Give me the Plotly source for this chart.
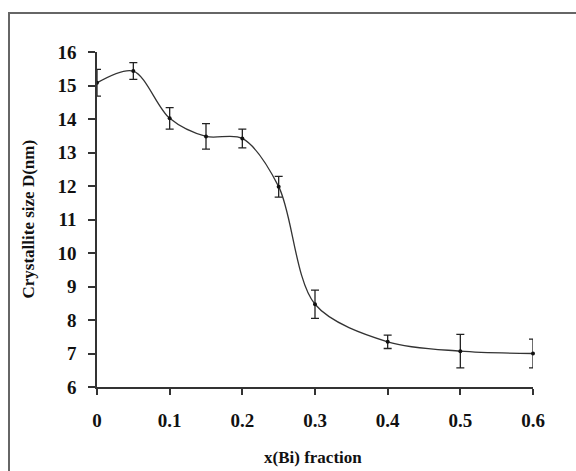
import plotly.graph_objects as go

x_frac = [0, 0.05, 0.1, 0.15, 0.2, 0.25, 0.3, 0.4, 0.5, 0.6]
size_nm = [15.08, 15.43, 14.02, 13.48, 13.42, 11.98, 8.47, 7.35, 7.07, 7.0]
err_nm = [0.40, 0.25, 0.32, 0.38, 0.28, 0.31, 0.42, 0.20, 0.50, 0.43]

x_ticks = [0, 0.1, 0.2, 0.3, 0.4, 0.5, 0.6]
x_ticktext = ["0", "0.1", "0.2", "0.3", "0.4", "0.5", "0.6"]
y_ticks = [6, 7, 8, 9, 10, 11, 12, 13, 14, 15, 16]

FONT = "Liberation Serif"

fig = go.Figure()
fig.add_trace(go.Scatter(
    x=x_frac, y=size_nm,
    mode="lines+markers",
    line=dict(shape="spline", smoothing=0.9, color="#333333", width=1.3),
    marker=dict(color="#111111", size=4),
    error_y=dict(type="data", array=err_nm, visible=True,
                 color="#222222", thickness=1.3, width=4),
    cliponaxis=False,
    showlegend=False,
))

W, H = 576, 471
L, R, T, B = 97, 43, 52, 84
pw, ph = W - L - R, H - T - B

def px_x(p):
    return (p - L) / pw

def px_y(p):
    return (H - B - p) / ph

fig.update_layout(
    width=W, height=H,
    margin=dict(l=L, r=R, t=T, b=B),
    paper_bgcolor="white", plot_bgcolor="white",
    font=dict(family=FONT, color="#111111"),
    xaxis=dict(range=[0, 0.6], tickvals=x_ticks, ticktext=x_ticktext,
               showgrid=False, zeroline=False, showline=True,
               linecolor="#333333", linewidth=1.5,
               ticks="outside", ticklen=6, tickwidth=1.5, tickcolor="#333333",
               tickfont=dict(family=FONT, size=19, color="#111111", weight="bold"),
               ticklabelstandoff=9),
    yaxis=dict(range=[6, 16], tickvals=y_ticks,
               showgrid=False, zeroline=False, showline=True,
               linecolor="#333333", linewidth=1.5,
               ticks="outside", ticklen=7, tickwidth=1.5, tickcolor="#333333",
               tickfont=dict(family=FONT, size=19, color="#111111", weight="bold"),
               ticklabelstandoff=8),
    annotations=[
        dict(text="<b>Crystallite size D(nm)</b>", x=px_x(28), y=0.5,
             xref="paper", yref="paper", showarrow=False, textangle=-90,
             font=dict(family=FONT, size=17, color="#111111"),
             xanchor="center", yanchor="middle"),
        dict(text="<b>x(Bi) fraction</b>", x=px_x(313), y=px_y(457),
             xref="paper", yref="paper", showarrow=False,
             font=dict(family=FONT, size=17, color="#111111"),
             xanchor="center", yanchor="middle"),
    ],
    shapes=[
        dict(type="rect", xref="paper", yref="paper",
             x0=px_x(9), x1=px_x(600), y0=px_y(500), y1=px_y(13),
             line=dict(color="#666666", width=2), fillcolor="rgba(0,0,0,0)",
             layer="below"),
    ],
)

fig.write_html("out.html")
